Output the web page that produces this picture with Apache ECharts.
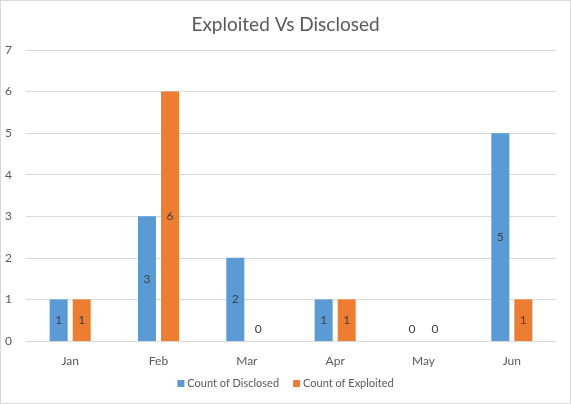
<!DOCTYPE html>
<html>
<head>
<meta charset="utf-8">
<script src="https://cdn.jsdelivr.net/npm/echarts@6/dist/echarts.min.js"></script>
<style>
  html, body { margin: 0; padding: 0; background: #fff; }
  #chart { width: 569px; height: 402px; border: 1px solid #d9d9d9; }
</style>
</head>
<body>
<div id="chart"></div>
<script>
// data
const months = ['Jan', 'Feb', 'Mar', 'Apr', 'May', 'Jun']
const disclosed = [1, 3, 2, 1, 0, 5]
const exploited = [1, 6, 0, 1, 0, 1]

const textColor = '#595959'
const font = 'Lato, "Liberation Sans", sans-serif'

// zero bars get their label above the axis, like Excel does
const withLabels = (values) => values.map(v =>
  v === 0 ? { value: v, label: { position: 'top', distance: 6 } } : v
)

const chart = echarts.init(document.getElementById('chart'))

chart.setOption({
  animation: false,
  textStyle: { fontFamily: font },
  title: {
    text: 'Exploited Vs Disclosed',
    left: 'center',
    top: 9,
    textStyle: { fontSize: 19, fontWeight: 'normal', color: textColor, fontFamily: font }
  },
  legend: {
    bottom: 9,
    itemWidth: 7,
    itemHeight: 7,
    itemGap: 14,
    icon: 'rect',
    textStyle: { fontSize: 11, color: textColor, fontFamily: font, padding: [0, 0, 0, -2] }
  },
  grid: {
    left: 25,
    right: 14,
    top: 49,
    bottom: 62
  },
  xAxis: {
    type: 'category',
    data: months,
    axisLine: { lineStyle: { color: '#d9d9d9' } },
    axisTick: { show: false },
    axisLabel: { color: textColor, fontSize: 12, margin: 14 }
  },
  yAxis: {
    type: 'value',
    min: 0,
    max: 7,
    interval: 1,
    axisLine: { show: false },
    axisTick: { show: false },
    axisLabel: { color: textColor, fontSize: 12, margin: 14 },
    splitLine: { lineStyle: { color: '#d9d9d9' } }
  },
  series: [
    {
      name: 'Count of Disclosed',
      type: 'bar',
      data: withLabels(disclosed),
      barWidth: 18,
      barGap: '28%',
      itemStyle: { color: '#5b9bd5' },
      label: { show: true, position: 'inside', color: '#404040', fontSize: 12 }
    },
    {
      name: 'Count of Exploited',
      type: 'bar',
      data: withLabels(exploited),
      barWidth: 18,
      itemStyle: { color: '#ed7d31' },
      label: { show: true, position: 'inside', color: '#404040', fontSize: 12 }
    }
  ]
})
</script>
</body>
</html>
